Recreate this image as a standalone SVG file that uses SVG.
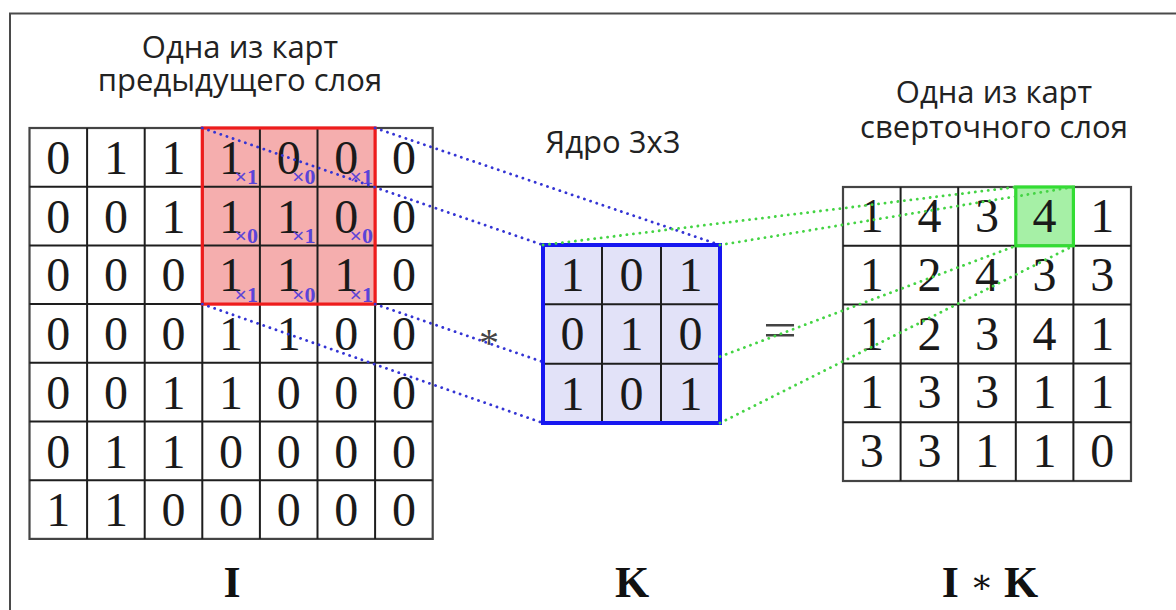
<svg xmlns="http://www.w3.org/2000/svg" width="1176" height="610" viewBox="0 0 1176 610">
<style>
.frame{fill:none;stroke:#4a4a4a;stroke-width:2}
.grid{fill:none;stroke:#1e1e1e;stroke-width:2}
.gout{fill:#fff;stroke:#444;stroke-width:2.2}
.d{font-family:"Liberation Serif","DejaVu Serif",serif;font-size:48px;fill:#1a1a1a;text-anchor:middle}
.m{font-family:"Liberation Serif","DejaVu Serif",serif;font-size:22px;font-weight:bold;fill:#5a44d8;text-anchor:end}
.t{font-family:"Open Sans","DejaVu Sans",sans-serif;font-size:31px;fill:#222;text-anchor:middle}
.b{font-family:"Liberation Serif","DejaVu Serif",serif;font-size:44px;font-weight:bold;fill:#111;text-anchor:middle}
.op{font-family:"Liberation Serif","DejaVu Serif",serif;fill:#444;text-anchor:middle}
.blue{fill:none;stroke:#3434d4;stroke-width:2.8;stroke-linecap:round;stroke-dasharray:0.1 6.4}
.green{fill:none;stroke:#44d444;stroke-width:2.8;stroke-linecap:round;stroke-dasharray:0.1 6.4}
</style>
<rect width="1176" height="610" fill="#fff"/>
<path class="frame" d="M10,610 V13.5 H1176"/>

<g id="title-left">
<text class="t" x="240" y="58">Одна из карт</text>
<text class="t" x="240" y="91">предыдущего слоя</text>
</g>
<g id="title-kernel"><text class="t" x="613" y="153">Ядро 3x3</text></g>
<g id="title-right">
<text class="t" x="994" y="103">Одна из карт</text>
<text class="t" x="994" y="138">сверточного слоя</text>
</g>

<g id="input-I">
<rect class="gout" x="29.5" y="128" width="403.2" height="410.9"/>
<rect x="202.3" y="128" width="172.8" height="176.1" fill="#f5aeae"/>
<path class="grid" d="M87.1,128V538.9M144.7,128V538.9M202.3,128V538.9M259.9,128V538.9M317.5,128V538.9M375.1,128V538.9M29.5,186.7H432.7M29.5,245.4H432.7M29.5,304.1H432.7M29.5,362.8H432.7M29.5,421.5H432.7M29.5,480.2H432.7"/>
<rect x="202.3" y="128" width="172.8" height="176.1" fill="none" stroke="#ee1c1c" stroke-width="3.2"/>
<g class="d">
<text x="58.3" y="174">0</text><text x="115.9" y="174">1</text><text x="173.5" y="174">1</text><text x="231.1" y="174">1</text><text x="288.7" y="174">0</text><text x="346.3" y="174">0</text><text x="403.9" y="174">0</text>
<text x="58.3" y="232.7">0</text><text x="115.9" y="232.7">0</text><text x="173.5" y="232.7">1</text><text x="231.1" y="232.7">1</text><text x="288.7" y="232.7">1</text><text x="346.3" y="232.7">0</text><text x="403.9" y="232.7">0</text>
<text x="58.3" y="291.4">0</text><text x="115.9" y="291.4">0</text><text x="173.5" y="291.4">0</text><text x="231.1" y="291.4">1</text><text x="288.7" y="291.4">1</text><text x="346.3" y="291.4">1</text><text x="403.9" y="291.4">0</text>
<text x="58.3" y="350.1">0</text><text x="115.9" y="350.1">0</text><text x="173.5" y="350.1">0</text><text x="231.1" y="350.1">1</text><text x="288.7" y="350.1">1</text><text x="346.3" y="350.1">0</text><text x="403.9" y="350.1">0</text>
<text x="58.3" y="408.8">0</text><text x="115.9" y="408.8">0</text><text x="173.5" y="408.8">1</text><text x="231.1" y="408.8">1</text><text x="288.7" y="408.8">0</text><text x="346.3" y="408.8">0</text><text x="403.9" y="408.8">0</text>
<text x="58.3" y="467.5">0</text><text x="115.9" y="467.5">1</text><text x="173.5" y="467.5">1</text><text x="231.1" y="467.5">0</text><text x="288.7" y="467.5">0</text><text x="346.3" y="467.5">0</text><text x="403.9" y="467.5">0</text>
<text x="58.3" y="526.2">1</text><text x="115.9" y="526.2">1</text><text x="173.5" y="526.2">0</text><text x="231.1" y="526.2">0</text><text x="288.7" y="526.2">0</text><text x="346.3" y="526.2">0</text><text x="403.9" y="526.2">0</text>
</g>
<g class="m">
<text x="258" y="184">×1</text><text x="315.5" y="184">×0</text><text x="373" y="184">×1</text>
<text x="258" y="243">×0</text><text x="315.5" y="243">×1</text><text x="373" y="243">×0</text>
<text x="258" y="302">×1</text><text x="315.5" y="302">×0</text><text x="373" y="302">×1</text>
</g>
</g>

<g id="connectors-blue">
<path class="blue" d="M202.3,128L543,245"/>
<path class="blue" d="M375.1,128L720,245"/>
<path class="blue" d="M202.3,304.1L543,423"/>
<path class="blue" d="M375.1,304.1L720,423"/>
</g>

<g id="op-conv"><text class="op" x="489" y="356" font-size="40">*</text></g>

<g id="kernel-K">
<rect x="543" y="245" width="177" height="178" fill="#e2e2f8"/>
<path class="grid" d="M602,245V423M661,245V423M543,304.3H720M543,363.7H720"/>
<rect x="543" y="245" width="177" height="178" fill="none" stroke="#1717f0" stroke-width="4"/>
<g class="d">
<text x="572.5" y="291">1</text><text x="631.5" y="291">0</text><text x="690.5" y="291">1</text>
<text x="572.5" y="350.3">0</text><text x="631.5" y="350.3">1</text><text x="690.5" y="350.3">0</text>
<text x="572.5" y="409.7">1</text><text x="631.5" y="409.7">0</text><text x="690.5" y="409.7">1</text>
</g>
</g>

<g id="op-eq"><text class="op" x="780" y="347" font-size="50" textLength="34" lengthAdjust="spacingAndGlyphs">=</text></g>

<g id="output-IK">
<rect class="gout" x="843" y="187" width="288" height="294"/>
<rect x="1015.8" y="187" width="57.6" height="58.8" fill="#a6f0a6"/>
<path class="grid" d="M900.6,187V481M958.2,187V481M1015.8,187V481M1073.4,187V481M843,245.8H1131M843,304.6H1131M843,363.4H1131M843,422.2H1131"/>
<rect x="1015.8" y="187" width="57.6" height="58.8" fill="none" stroke="#33dd33" stroke-width="3.2"/>
<g class="d">
<text x="871.8" y="232">1</text><text x="929.4" y="232">4</text><text x="987" y="232">3</text><text x="1044.6" y="232">4</text><text x="1102.2" y="232">1</text>
<text x="871.8" y="290.8">1</text><text x="929.4" y="290.8">2</text><text x="987" y="290.8">4</text><text x="1044.6" y="290.8">3</text><text x="1102.2" y="290.8">3</text>
<text x="871.8" y="349.6">1</text><text x="929.4" y="349.6">2</text><text x="987" y="349.6">3</text><text x="1044.6" y="349.6">4</text><text x="1102.2" y="349.6">1</text>
<text x="871.8" y="408.4">1</text><text x="929.4" y="408.4">3</text><text x="987" y="408.4">3</text><text x="1044.6" y="408.4">1</text><text x="1102.2" y="408.4">1</text>
<text x="871.8" y="467.2">3</text><text x="929.4" y="467.2">3</text><text x="987" y="467.2">1</text><text x="1044.6" y="467.2">1</text><text x="1102.2" y="467.2">0</text>
</g>
</g>

<g id="connectors-green">
<path class="green" d="M543,245L1015.8,187"/>
<path class="green" d="M720,245L1073.4,187"/>
<path class="green" d="M720,356.6L1015.8,245.8"/>
<path class="green" d="M720,423L1073.4,245.8"/>
</g>

<g id="labels-bottom">
<text class="b" x="232" y="597">I</text>
<text class="b" x="632" y="597">K</text>
<text class="b" x="990" y="597">I <tspan font-weight="normal" font-size="34" dy="-4">∗</tspan><tspan dy="4"> K</tspan></text>
</g>
</svg>
